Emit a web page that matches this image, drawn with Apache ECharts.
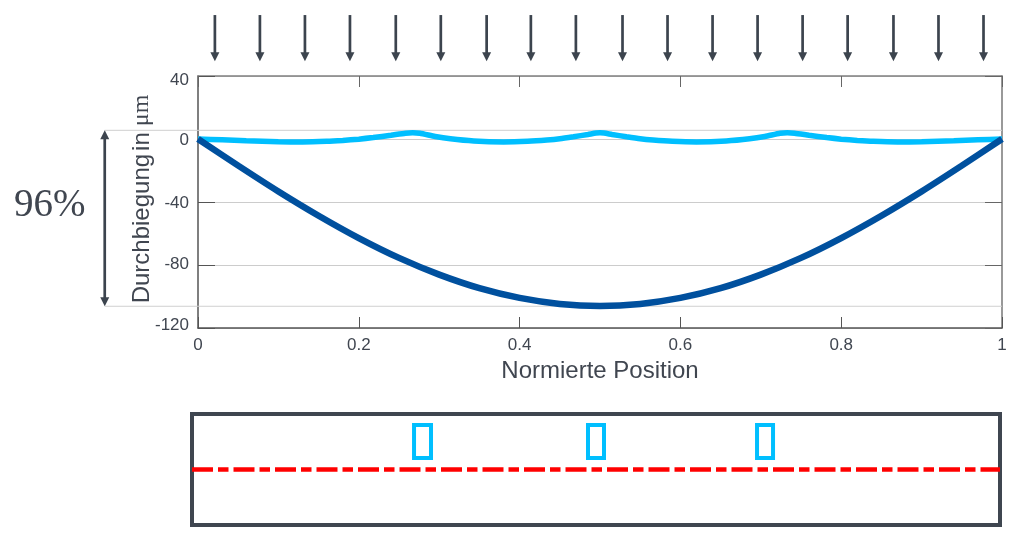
<!DOCTYPE html>
<html>

<head>
    <meta charset="utf-8">
    <title>Durchbiegung</title>
    <script src="https://cdn.jsdelivr.net/npm/echarts@6/dist/echarts.min.js"></script>
    <style>
        html, body { margin: 0; padding: 0; background: #fff; }
        #chart { width: 1025px; height: 538px; }
    </style>
</head>

<body>
    <div id="chart"></div>

    <script type="text/javascript">
        var deflection_dark = [
            [0, 0], [0.05, -16.9], [0.1, -33.3], [0.15, -48.7], [0.2, -62.9], [0.25, -75.5],
            [0.3, -86.1], [0.35, -94.7], [0.4, -100.9], [0.45, -104.7], [0.5, -106],
            [0.55, -104.7], [0.6, -100.9], [0.65, -94.7], [0.7, -86.1], [0.75, -75.5],
            [0.8, -62.9], [0.85, -48.7], [0.9, -33.3], [0.95, -16.9], [1, 0]
        ];
        var deflection_light = [
            [0, 0], [0.03, -0.5], [0.06, -1.1], [0.1, -1.7], [0.13, -1.9], [0.16, -1.5], [0.18, -0.9],
            [0.2, -0.1], [0.218, 0.9], [0.24, 2.4], [0.258, 3.7], [0.267, 4], [0.276, 3.7], [0.295, 1.6],
            [0.314, 0.1], [0.343, -1.3], [0.38, -1.9], [0.41, -1.5], [0.434, -0.7], [0.45, 0.1],
            [0.467, 1.4], [0.485, 2.9], [0.495, 3.8], [0.5, 4], [0.505, 3.8], [0.515, 2.9], [0.533, 1.4],
            [0.55, 0.1], [0.566, -0.7], [0.59, -1.5], [0.62, -1.9], [0.657, -1.3], [0.686, 0.1],
            [0.705, 1.6], [0.724, 3.7], [0.733, 4], [0.742, 3.7], [0.76, 2.4], [0.782, 0.9],
            [0.8, -0.1], [0.82, -0.9], [0.84, -1.5], [0.87, -1.9], [0.9, -1.7], [0.94, -1.1], [0.97, -0.5], [1, 0]
        ];
        var load_positions = [0.021, 0.077, 0.133, 0.189, 0.246, 0.302, 0.359, 0.414, 0.47,
            0.528, 0.584, 0.64, 0.696, 0.752, 0.808, 0.865, 0.921, 0.977];
        var load_from = 78.7;
        var load_to = 50;
        var guide_values = [5.5, -106.2];
        var guide_x = -0.116;
        var sensor_ranges = [[0.2748, 0.2958], [0.4901, 0.5099], [0.6993, 0.7191]];
        var sensor_y = [11.5, 44.5];
        var axis_line = [[0, 0], [1, 0]];
        var percent_label = '96%';

        var text_color = '#404650';
        var arrow_color = '#3c444e';
        var label_shift = { '40': 4, '0': 1, '-40': 1, '-80': -1, '-120': -3 };

        function ArrowHead(x, y, dir) {
            return {
                type: 'polygon',
                shape: { points: [[x - 4.5, y - dir * 9], [x + 4.5, y - dir * 9], [x, y]] },
                style: { fill: arrow_color }
            };
        }

        function RenderLoad(params, api) {
            var a = api.coord([api.value(0), load_from]);
            var b = api.coord([api.value(0), load_to]);
            return {
                type: 'group',
                children: [
                    { type: 'line', shape: { x1: a[0], y1: a[1], x2: b[0], y2: b[1] - 6 },
                      style: { stroke: arrow_color, lineWidth: 2.7 } },
                    ArrowHead(b[0], b[1] + 1, 1)
                ]
            };
        }

        function RenderGuides(params, api) {
            var top = api.coord([guide_x, guide_values[0]]);
            var bottom = api.coord([guide_x, guide_values[1]]);
            var children = guide_values.map(function (v) {
                var p = api.coord([guide_x, v]);
                var q = api.coord([1, v]);
                return { type: 'line', shape: { x1: p[0], y1: p[1], x2: q[0], y2: q[1] },
                         style: { stroke: '#d0d0d0', lineWidth: 1 } };
            });
            children.push({ type: 'line', shape: { x1: top[0], y1: top[1] + 6, x2: bottom[0], y2: bottom[1] - 6 },
                            style: { stroke: arrow_color, lineWidth: 2.7 } });
            children.push(ArrowHead(top[0], top[1], -1));
            children.push(ArrowHead(bottom[0], bottom[1], 1));
            return { type: 'group', children: children };
        }

        function RenderSensor(params, api) {
            var p = api.coord([api.value(0), sensor_y[1]]);
            var q = api.coord([api.value(1), sensor_y[0]]);
            return {
                type: 'rect',
                shape: { x: p[0], y: p[1], width: q[0] - p[0], height: q[1] - p[1] },
                style: { fill: 'none', stroke: '#00bfff', lineWidth: 4 }
            };
        }

        function YLabelRich() {
            var rich = {};
            Object.keys(label_shift).forEach(function (k, i) {
                var s = label_shift[k];
                rich['l' + i] = {
                    fontSize: 17, color: text_color, fontFamily: 'Liberation Sans',
                    padding: s > 0 ? [s * 2, 0, 0, 0] : [0, 0, -s * 2, 0]
                };
            });
            return rich;
        }

        var chart = echarts.init(document.getElementById('chart'), null, { renderer: 'canvas' });
        chart.setOption({
            animation: false,
            backgroundColor: '#fff',
            textStyle: { fontFamily: 'Liberation Sans' },
            graphic: [{
                type: 'text', left: 14, top: 186,
                style: { text: percent_label, font: '39px "Liberation Serif"', fill: text_color }
            }],
            grid: [
                { left: 198, right: 23, top: 76, bottom: 210, containLabel: false },
                { left: 192, width: 808, top: 414, height: 111, show: true, borderWidth: 4,
                  borderColor: '#3f4650', backgroundColor: 'transparent' }
            ],
            xAxis: [
                {
                    type: 'value', gridIndex: 0, min: 0, max: 1, interval: 0.2,
                    name: 'Normierte Position', nameLocation: 'middle', nameGap: 31,
                    nameTextStyle: { fontSize: 24, color: text_color },
                    axisLine: { onZero: false, lineStyle: { color: '#555', width: 1.5 } },
                    axisTick: { inside: true, length: 11, lineStyle: { color: '#555' } },
                    axisLabel: { fontSize: 17, color: text_color, margin: 9 },
                    splitLine: { show: false }
                },
                {
                    type: 'value', gridIndex: 0, position: 'top', min: 0, max: 1, interval: 0.2,
                    axisLine: { onZero: false, lineStyle: { color: '#808080', width: 1.5 } },
                    axisTick: { inside: true, length: 11, lineStyle: { color: '#666' } },
                    axisLabel: { show: false },
                    splitLine: { show: false }
                },
                { type: 'value', gridIndex: 1, min: 0, max: 1, show: false }
            ],
            yAxis: [
                {
                    type: 'value', gridIndex: 0, min: -120, max: 40, interval: 40,
                    name: '{a|Durchbiegung}{b|in}{c|μm}', nameLocation: 'middle', nameGap: 44,
                    nameMoveOverlap: false,
                    nameTextStyle: {
                        rich: {
                            a: { fontSize: 24, color: text_color, fontFamily: 'Liberation Sans', padding: [0, 0, 0, 6] },
                            b: { fontSize: 24, color: text_color, fontFamily: 'Liberation Sans', padding: [0, 6, 0, 3] },
                            c: { fontSize: 24, color: text_color, fontFamily: 'Liberation Serif' }
                        }
                    },
                    axisLine: { onZero: false, lineStyle: { color: '#555', width: 1.5 } },
                    axisTick: { inside: true, length: 17, lineStyle: { color: '#555' } },
                    axisLabel: {
                        margin: 9,
                        formatter: function (v) {
                            var i = Object.keys(label_shift).indexOf(String(v));
                            return '{l' + i + '|' + v + '}';
                        },
                        rich: YLabelRich()
                    },
                    splitLine: { lineStyle: { color: '#cccccc', width: 1.2 } }
                },
                {
                    type: 'value', gridIndex: 0, position: 'right', min: -120, max: 40, interval: 40,
                    axisLine: { onZero: false, lineStyle: { color: '#777', width: 1.5 } },
                    axisTick: { inside: true, length: 17, lineStyle: { color: '#666' } },
                    axisLabel: { show: false },
                    splitLine: { show: false }
                },
                { type: 'value', gridIndex: 1, min: -55.5, max: 55.5, show: false }
            ],
            series: [
                { type: 'custom', name: 'guides', xAxisIndex: 0, yAxisIndex: 0, clip: false, silent: true,
                  renderItem: RenderGuides, data: [[guide_x, guide_values[0]]] },
                { type: 'custom', name: 'loads', xAxisIndex: 0, yAxisIndex: 0, clip: false, silent: true,
                  renderItem: RenderLoad, data: load_positions.map(function (x) { return [x, load_to]; }) },
                { type: 'line', name: 'light', xAxisIndex: 0, yAxisIndex: 0, data: deflection_light,
                  smooth: 0.2, showSymbol: false, clip: false, lineStyle: { color: '#00bfff', width: 5.5 } },
                { type: 'line', name: 'dark', xAxisIndex: 0, yAxisIndex: 0, data: deflection_dark,
                  smooth: 0.3, showSymbol: false, clip: false, lineStyle: { color: '#00509e', width: 6.5 } },
                { type: 'line', name: 'axis', xAxisIndex: 2, yAxisIndex: 2, data: axis_line,
                  showSymbol: false, lineStyle: { color: '#ff0000', width: 4.6, type: [21, 5, 10.5, 5], cap: 'butt' } },
                { type: 'custom', name: 'sensors', xAxisIndex: 2, yAxisIndex: 2, silent: true,
                  renderItem: RenderSensor, data: sensor_ranges }
            ]
        });
    </script>
</body>

</html>
